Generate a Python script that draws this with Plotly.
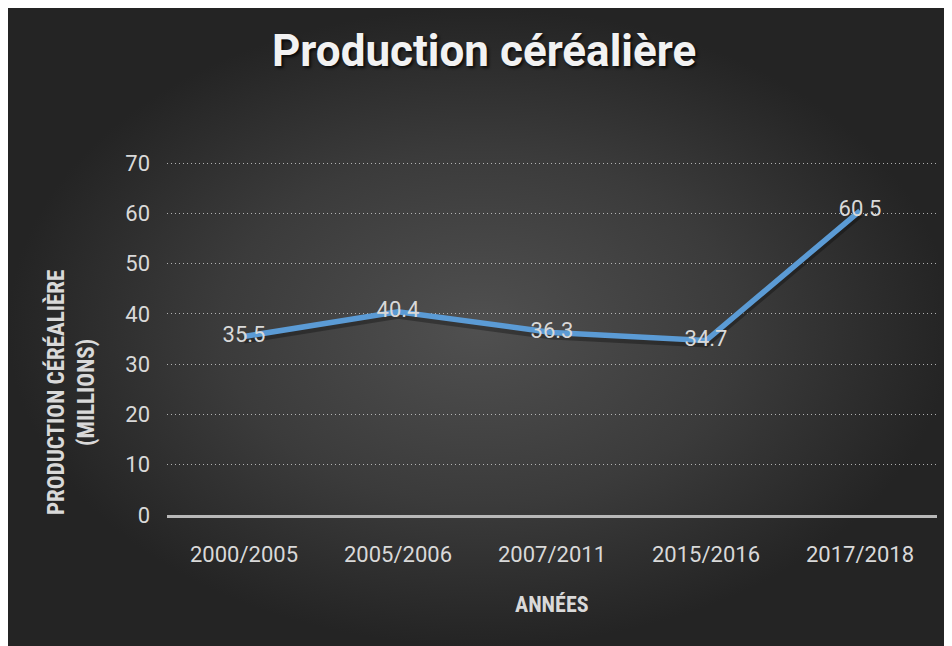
import plotly.graph_objects as go

categories = ["2000/2005", "2005/2006", "2007/2011", "2015/2016", "2017/2018"]
production = [35.5, 40.4, 36.3, 34.7, 60.5]
labels = ["35.5", "40.4", "36.3", "34.7", "60.5"]
y_ticks = [0, 10, 20, 30, 40, 50, 60, 70]

W, H = 944, 638
OFF = 8  # page offset of the figure in the browser


def fx(sx):
    return (sx - OFF) / W


def fy(sy):
    return 1 - (sy - OFF) / H


LINE = "#5B9BD5"
TXT = "#d9d9d9"
NARROW = "Liberation Sans Narrow, Arial Narrow, Roboto Condensed, Roboto, sans-serif"

fig = go.Figure()

# background panel with radial gradient (covers whole chart area)
fig.add_trace(go.Scatter(
    x=[0, 1, 1, 0, 0], y=[0, 0, 1, 1, 0], xaxis="x", yaxis="y",
    mode="lines", line=dict(width=0), fill="toself",
    fillgradient=dict(type="radial", colorscale=[[0, "#505050"], [0.55, "#3b3b3b"], [1, "#242424"]]),
    hoverinfo="skip", showlegend=False,
))

# soft shadow under the line (base axis shifted slightly)
fig.add_trace(go.Scatter(
    x=categories, y=production, xaxis="x2", yaxis="y2", mode="lines",
    line=dict(color="rgba(0,0,0,0.3)", width=7), hoverinfo="skip", showlegend=False,
))

# main line with labels
fig.add_trace(go.Scatter(
    x=categories, y=production, xaxis="x2", yaxis="y3", mode="lines+text",
    line=dict(color=LINE, width=5.5),
    text=labels, textposition="middle center",
    textfont=dict(family="Roboto", size=22, color=TXT),
    showlegend=False,
))

xd = [fx(167), fx(937)]
yd = [fy(515), fy(162)]

fig.update_layout(
    width=W, height=H,
    margin=dict(l=0, r=0, t=0, b=0, pad=0),
    paper_bgcolor="#262626", plot_bgcolor="rgba(0,0,0,0)",
    showlegend=False,
    xaxis=dict(domain=[0, 1], range=[0, 1], visible=False, fixedrange=True),
    yaxis=dict(domain=[0, 1], range=[0, 1], visible=False, fixedrange=True),
    xaxis2=dict(
        domain=xd, anchor="y2", type="category", range=[-0.5, 4.5],
        showgrid=False, showline=True, linecolor="#b8b8b8", linewidth=3,
        ticks="", ticklabelstandoff=18, automargin=False,
        tickfont=dict(family="Roboto", size=22, color=TXT),
        zeroline=False,
    ),
    yaxis2=dict(
        domain=yd, anchor="x2", range=[0.7, 70.9],
        showgrid=False, zeroline=False, showline=False, showticklabels=False,
        ticks="", automargin=False,
    ),
    yaxis3=dict(
        overlaying="y2", anchor="x2", side="left", range=[0, 70.2], tickvals=y_ticks,
        showgrid=True, gridcolor="rgba(210,210,210,0.8)", griddash="1px,3px", gridwidth=1,
        zeroline=False, showline=False, ticks="", ticklabelstandoff=16, automargin=False,
        tickfont=dict(family="Roboto", size=22, color=TXT),
    ),
    annotations=[
        dict(text="Production céréalière", xref="paper", yref="paper",
             x=fx(484), y=fy(51), xanchor="center", yanchor="middle", showarrow=False,
             font=dict(family="Roboto", size=44, color="#f2f2f2", weight="bold",
                       shadow="2px 2px 3px rgba(0,0,0,0.75)")),
        dict(text="PRODUCTION CÉRÉALIÈRE<br>(MILLIONS)", xref="paper", yref="paper",
             x=fx(71), y=fy(393), xanchor="center", yanchor="middle", showarrow=False,
             textangle=-90,
             font=dict(family=NARROW, size=23, color=TXT, weight="bold")),
        dict(text="ANNÉES", xref="paper", yref="paper",
             x=fx(552), y=fy(604), xanchor="center", yanchor="middle", showarrow=False,
             font=dict(family=NARROW, size=22, color=TXT, weight="bold")),
    ],
)

fig.write_html("out.html")
